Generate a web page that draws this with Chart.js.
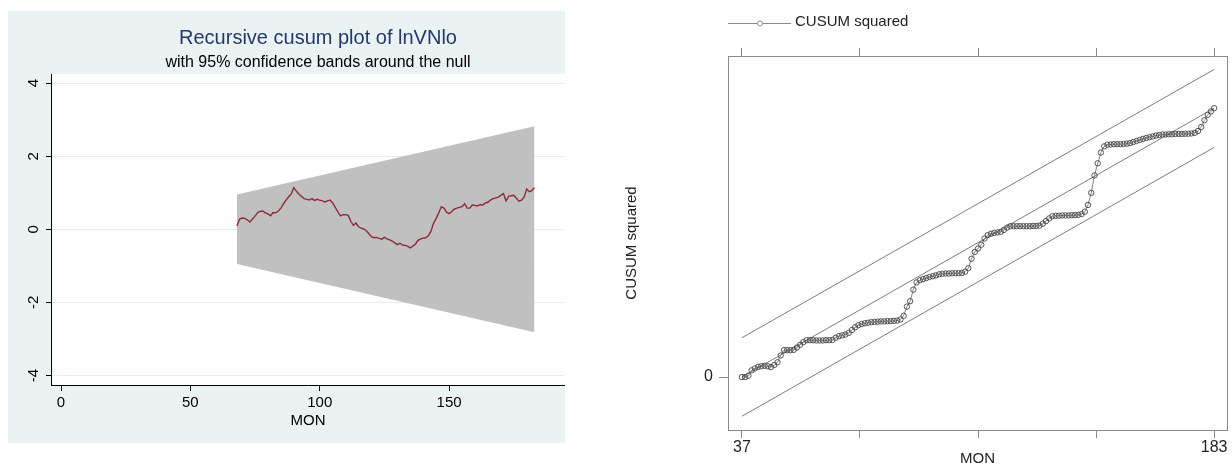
<!DOCTYPE html>
<html>
<head>
<meta charset="utf-8">
<title>Recursive cusum / CUSUM squared</title>
<script src="https://cdn.jsdelivr.net/npm/chart.js@4.4.0/dist/chart.umd.min.js"></script>
<style>
  body { margin: 0; background: #fff; width: 1232px; height: 466px; position: relative; overflow: hidden; }
  canvas { position: absolute; }
  #cusumChart { left: 8px; top: 11px; background: #eaf2f3; }
  #cusumSqChart { left: 600px; top: 0; }
</style>
</head>
<body>
<canvas id="cusumChart" width="557" height="432"></canvas>
<canvas id="cusumSqChart" width="632" height="466"></canvas>
<script>
// left panel: recursive cusum, months 68..183
const cusumFirstMon = 68;
const cusumValues = [
  0.09, 0.28, 0.31, 0.30, 0.26, 0.20, 0.28, 0.36, 0.46, 0.49,
  0.50, 0.45, 0.42, 0.37, 0.46, 0.45, 0.50, 0.58, 0.70, 0.80,
  0.89, 0.97, 1.14, 1.04, 0.96, 0.90, 0.84, 0.82, 0.80, 0.84,
  0.79, 0.82, 0.80, 0.78, 0.75, 0.78, 0.80, 0.72, 0.60, 0.48,
  0.37, 0.40, 0.40, 0.38, 0.22, 0.11, 0.17, 0.07, 0.03, 0.01,
  -0.04, -0.12, -0.20, -0.23, -0.22, -0.25, -0.27, -0.22, -0.26, -0.29,
  -0.32, -0.37, -0.42, -0.38, -0.43, -0.44, -0.46, -0.51, -0.46, -0.40,
  -0.30, -0.26, -0.24, -0.23, -0.18, -0.05, 0.17, 0.30, 0.45, 0.62,
  0.58, 0.47, 0.43, 0.49, 0.55, 0.58, 0.60, 0.62, 0.70, 0.58,
  0.58, 0.67, 0.65, 0.64, 0.68, 0.66, 0.72, 0.74, 0.80, 0.84,
  0.86, 0.88, 0.93, 0.98, 0.78, 0.90, 0.92, 0.93, 0.85, 0.77,
  0.80, 0.88, 1.10, 1.03, 1.06, 1.14
];
const bandMon = [68, 183];
const bandUpper = [0.95, 2.82];
const bandLower = [-0.95, -2.82];
const leftXTicks = [0, 50, 100, 150];
const leftYTicks = [-4, -2, 0, 2, 4];

// right panel: CUSUM squared, months 37..183
const sqFirstMon = 37;
const sqValues = [
  0.000, 0.000, 0.005, 0.025, 0.032, 0.038, 0.040, 0.042, 0.040, 0.037,
  0.045, 0.055, 0.080, 0.100, 0.100, 0.100, 0.101, 0.110, 0.120, 0.130,
  0.137, 0.137, 0.137, 0.136, 0.136, 0.136, 0.137, 0.137, 0.138, 0.146,
  0.152, 0.155, 0.158, 0.164, 0.175, 0.185, 0.193, 0.197, 0.200, 0.202,
  0.204, 0.205, 0.206, 0.207, 0.207, 0.208, 0.208, 0.209, 0.210, 0.214,
  0.228, 0.262, 0.282, 0.325, 0.352, 0.360, 0.364, 0.368, 0.372, 0.375,
  0.378, 0.382, 0.384, 0.385, 0.385, 0.386, 0.386, 0.386, 0.387, 0.392,
  0.405, 0.440, 0.465, 0.478, 0.492, 0.515, 0.528, 0.533, 0.536, 0.538,
  0.540, 0.547, 0.556, 0.561, 0.561, 0.561, 0.561, 0.561, 0.561, 0.561,
  0.562, 0.562, 0.563, 0.570, 0.580, 0.590, 0.598, 0.600, 0.600, 0.601,
  0.601, 0.601, 0.602, 0.602, 0.603, 0.606, 0.615, 0.640, 0.685, 0.750,
  0.795, 0.835, 0.858, 0.864, 0.865, 0.866, 0.866, 0.866, 0.867, 0.868,
  0.870, 0.874, 0.878, 0.882, 0.886, 0.889, 0.892, 0.895, 0.898, 0.900,
  0.902, 0.902, 0.903, 0.903, 0.904, 0.904, 0.904, 0.905, 0.905, 0.906,
  0.908, 0.915, 0.930, 0.955, 0.975, 0.988, 1.000
];
const sqLineMon = [37, 183];
const sqCenter = [0, 1];
const sqUpper = [0.146, 1.144];
const sqLower = [-0.146, 0.854];
const rightXTicks = [37, 73.5, 110, 146.5, 183];
const rightXLabels = ['37', '', '', '', '183'];
const rightYTicks = [0];

Chart.defaults.font.family = "'Liberation Sans', Arial, sans-serif";
Chart.defaults.animation = false;

function pts(xs, ys) {
  return xs.map((x, i) => ({ x: x, y: ys[i] }));
}

const fixTicks = list => scale => { scale.ticks = list.map(v => ({ value: v })); };

// white plot region + titles + vertical y labels (Stata style)
const stataLook = {
  id: 'stataLook',
  beforeDraw(chart) {
    const { ctx, chartArea: a } = chart;
    ctx.save();
    ctx.fillStyle = '#fff';
    ctx.fillRect(a.left, a.top, a.right - a.left, a.bottom - a.top);
    ctx.restore();
  },
  afterDraw(chart) {
    const ctx = chart.ctx;
    const ys = chart.scales.y;
    ctx.save();
    ctx.textAlign = 'center';
    ctx.textBaseline = 'middle';
    ctx.fillStyle = '#24386b';
    ctx.font = "20px 'Liberation Sans', Arial, sans-serif";
    ctx.fillText('Recursive cusum plot of lnVNlo', 310, 27);
    ctx.fillStyle = '#000';
    ctx.font = "16px 'Liberation Sans', Arial, sans-serif";
    ctx.fillText('with 95% confidence bands around the null', 310, 52);
    ctx.font = "15px 'Liberation Sans', Arial, sans-serif";
    leftYTicks.forEach(v => {
      ctx.save();
      ctx.translate(26, ys.getPixelForValue(v));
      ctx.rotate(-Math.PI / 2);
      ctx.fillText(String(v), 0, 0);
      ctx.restore();
    });
    ctx.restore();
  }
};

new Chart(document.getElementById('cusumChart'), {
  type: 'line',
  data: {
    datasets: [
      {
        label: 'CUSUM',
        data: cusumValues.map((v, i) => ({ x: cusumFirstMon + i, y: v })),
        borderColor: '#8e2b38',
        borderWidth: 1.4,
        pointRadius: 0,
        fill: false,
        order: 0
      },
      {
        label: 'upper',
        data: pts(bandMon, bandUpper),
        borderWidth: 0,
        pointRadius: 0,
        backgroundColor: '#c0c0c0',
        fill: '+1',
        order: 1
      },
      {
        label: 'lower',
        data: pts(bandMon, bandLower),
        borderWidth: 0,
        pointRadius: 0,
        fill: false,
        order: 2
      }
    ]
  },
  options: {
    responsive: false,
    events: [],
    layout: { padding: { top: 63, left: 0, right: 0, bottom: 0 } },
    plugins: { legend: { display: false }, tooltip: { enabled: false } },
    scales: {
      x: {
        type: 'linear',
        min: -3.87,
        max: 194.8,
        afterBuildTicks: fixTicks(leftXTicks),
        afterFit: s => { s.height = 58; },
        grid: { drawOnChartArea: false, tickLength: 6, tickColor: '#000' },
        border: { color: '#000', width: 1 },
        ticks: { color: '#000', font: { size: 15 }, padding: 3, maxRotation: 0, autoSkip: false },
        title: { display: true, text: 'MON', color: '#000', font: { size: 15 }, padding: { top: 0, bottom: 13 } }
      },
      y: {
        type: 'linear',
        min: -4.26,
        max: 4.25,
        afterBuildTicks: fixTicks(leftYTicks),
        afterFit: s => { s.width = 43; },
        grid: { color: '#e4edf0', tickLength: 5, tickColor: '#000' },
        border: { color: '#000', width: 1 },
        ticks: { display: false }
      }
    }
  },
  plugins: [stataLook]
});

// box + legend for the CUSUM squared panel
const sqLook = {
  id: 'sqLook',
  afterDraw(chart) {
    const { ctx, chartArea: a } = chart;
    ctx.save();
    ctx.strokeStyle = '#8a8a8a';
    ctx.lineWidth = 1;
    ctx.strokeRect(Math.round(a.left) + 0.5, Math.round(a.top) + 0.5,
      Math.round(a.right - a.left), Math.round(a.bottom - a.top));
    // legend
    ctx.beginPath();
    ctx.moveTo(128, 23.5);
    ctx.lineTo(191, 23.5);
    ctx.stroke();
    ctx.beginPath();
    ctx.arc(160, 23.5, 2.6, 0, Math.PI * 2);
    ctx.fillStyle = '#fff';
    ctx.fill();
    ctx.stroke();
    ctx.fillStyle = '#222';
    ctx.font = "15px 'Liberation Sans', Arial, sans-serif";
    ctx.textBaseline = 'middle';
    ctx.fillText('CUSUM squared', 195, 22);
    ctx.restore();
  }
};

const thinLine = { borderColor: '#6e6e6e', borderWidth: 0.9, pointRadius: 0, fill: false };

new Chart(document.getElementById('cusumSqChart'), {
  type: 'line',
  data: {
    datasets: [
      {
        label: 'CUSUM squared',
        data: sqValues.map((v, i) => ({ x: sqFirstMon + i, y: v })),
        borderColor: '#666',
        borderWidth: 0.8,
        pointRadius: 2.7,
        pointBorderWidth: 0.9,
        pointBorderColor: '#444',
        pointBackgroundColor: 'rgba(255,255,255,0)',
        fill: false
      },
      Object.assign({ label: 'center', data: pts(sqLineMon, sqCenter) }, thinLine),
      Object.assign({ label: 'upper', data: pts(sqLineMon, sqUpper) }, thinLine),
      Object.assign({ label: 'lower', data: pts(sqLineMon, sqLower) }, thinLine)
    ]
  },
  options: {
    responsive: false,
    events: [],
    layout: { padding: { top: 0, left: 0, right: 2, bottom: 0 } },
    plugins: { legend: { display: false }, tooltip: { enabled: false } },
    scales: {
      x: {
        type: 'linear',
        position: 'bottom',
        min: 32.7,
        max: 187.0,
        afterBuildTicks: fixTicks(rightXTicks),
        afterFit: s => { s.height = 36; },
        grid: { drawOnChartArea: false, tickLength: 8, tickColor: '#8a8a8a' },
        border: { display: false },
        ticks: {
          callback: (v, i) => rightXLabels[i],
          color: '#222', font: { size: 16 }, padding: 0, maxRotation: 0, autoSkip: false
        },
        title: { display: true, text: 'MON', color: '#222', font: { size: 15, lineHeight: 1 }, padding: 0 }
      },
      x2: {
        type: 'linear',
        position: 'top',
        min: 32.7,
        max: 187.0,
        afterBuildTicks: fixTicks(rightXTicks),
        afterFit: s => { s.height = 56; },
        grid: { drawOnChartArea: false, tickLength: 8, tickColor: '#8a8a8a' },
        border: { display: false },
        ticks: { display: false }
      },
      y: {
        type: 'linear',
        min: -0.197,
        max: 1.194,
        afterBuildTicks: fixTicks(rightYTicks),
        afterFit: s => { s.width = 128; },
        grid: { drawOnChartArea: false, tickLength: 9, tickColor: '#8a8a8a' },
        border: { display: false },
        ticks: { color: '#222', font: { size: 16 }, padding: 6 },
        title: { display: true, text: 'CUSUM squared', color: '#222', font: { size: 15 }, padding: { top: 23 } }
      }
    }
  },
  plugins: [sqLook]
});
</script>
</body>
</html>
